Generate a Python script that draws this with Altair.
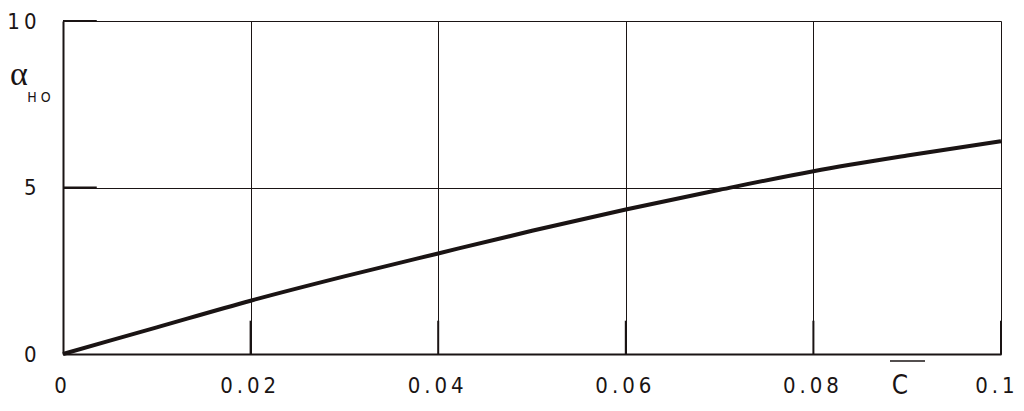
import altair as alt
import pandas as pd

# curve data
c_vals = [0, 0.01, 0.02, 0.03, 0.04, 0.05, 0.06, 0.07, 0.08, 0.09, 0.1]
a_vals = [0, 0.80, 1.60, 2.33, 3.02, 3.70, 4.34, 4.93, 5.49, 5.96, 6.39]

x_ticks = [0, 0.02, 0.04, 0.06, 0.08, 0.1]
y_ticks = [0, 5, 10]
x_inner_ticks = [0.02, 0.04, 0.06, 0.08, 0.1]
y_inner_ticks = [5, 10]

FONT = "'Liberation Sans Narrow', 'DejaVu Sans Condensed', 'Roboto Condensed', 'Liberation Sans', sans-serif"
INK = "#1a1414"

curve_df = pd.DataFrame({"c": c_vals, "a": a_vals})
xt_df = pd.DataFrame({"c": x_inner_ticks, "a0": [0] * len(x_inner_ticks), "a1": [1.0] * len(x_inner_ticks)})
yt_df = pd.DataFrame({"a": y_inner_ticks, "c0": [0] * len(y_inner_ticks), "c1": [0.0036] * len(y_inner_ticks)})

xscale = alt.Scale(domain=[0, 0.1], nice=False, zero=False)
yscale = alt.Scale(domain=[0, 10], nice=False, zero=False)

spaced = "join(split(format(datum.value, '~g'), ''), '\u2009')"

xaxis = alt.Axis(values=x_ticks, grid=True, gridColor=INK, gridWidth=1, gridOpacity=1,
                 domainColor=INK, domainWidth=2, ticks=False, labelPadding=21,
                 labelFont=FONT, labelFontSize=22, labelColor=INK, labelExpr=spaced,
                 labelFlush=False, title=None,
                 labelAlign={"condition": {"test": "datum.value >= 0.099", "value": "right"}, "value": "center"},
                 labelOffset={"condition": {"test": "datum.value >= 0.099", "value": 13}, "value": -3})
yaxis = alt.Axis(values=y_ticks, grid=True, gridColor=INK, gridWidth=1, gridOpacity=1,
                 domainColor=INK, domainWidth=2, ticks=False, labelPadding=27,
                 labelFont=FONT, labelFontSize=22, labelColor=INK, labelExpr=spaced,
                 labelFlush=False, title=None)

base_line = alt.Chart(curve_df).mark_line(color=INK, strokeWidth=4, interpolate="monotone").encode(
    x=alt.X("c:Q", scale=xscale, axis=xaxis),
    y=alt.Y("a:Q", scale=yscale, axis=yaxis),
)

xt = alt.Chart(xt_df).mark_rule(color=INK, strokeWidth=2).encode(
    x=alt.X("c:Q", scale=xscale), y=alt.Y("a0:Q", scale=yscale), y2="a1:Q")
yt = alt.Chart(yt_df).mark_rule(color=INK, strokeWidth=2).encode(
    y=alt.Y("a:Q", scale=yscale), x=alt.X("c0:Q", scale=xscale), x2="c1:Q")

alpha = alt.Chart(pd.DataFrame({"t": ["α"]})).mark_text(
    font="'Liberation Serif', 'DejaVu Serif', serif", fontSize=34, color=INK, align="center", baseline="middle").encode(
    text="t:N", x=alt.value(-44), y=alt.value(54))
sub = alt.Chart(pd.DataFrame({"t": ["H  O"]})).mark_text(
    font=FONT, fontSize=14, color=INK, align="center", baseline="middle").encode(
    text="t:N", x=alt.value(-24), y=alt.value(77))
ctext = alt.Chart(pd.DataFrame({"t": ["C"]})).mark_text(
    font=FONT, fontSize=26, color=INK, align="center", baseline="middle").encode(
    text="t:N", x=alt.value(837), y=alt.value(365))
cbar = alt.Chart(pd.DataFrame({"t": ["bar"]})).mark_rule(color=INK, strokeWidth=1.5).encode(
    x=alt.value(827), x2=alt.value(862), y=alt.value(340))

chart = alt.layer(base_line, xt, yt, alpha, sub, ctext, cbar).properties(
    width=938, height=333,
    autosize=alt.AutoSizeParams(type="none"),
    padding={"left": 55, "top": 13, "right": 15, "bottom": 50},
).configure_view(stroke=INK, strokeWidth=1.5).configure(background="white")

chart.save("out.html", embed_options={"renderer": "svg", "actions": False})
